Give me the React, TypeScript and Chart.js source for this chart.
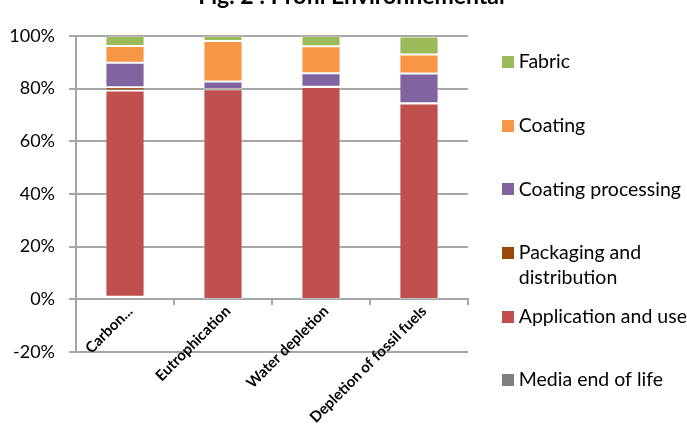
import React, { useEffect, useRef } from 'react';
import { Chart, registerables } from 'chart.js';

Chart.register(...registerables);

// ---- data ----
const categories = ['Carbon...', 'Eutrophication', 'Water depletion', 'Depletion of fossil fuels'];
const chartTitle = 'Fig. 2 : Profil Environnemental';

const mediaEndOfLife = [1.0, 0.1, 0.1, 0.1];
const applicationAndUse = [78.3, 79.7, 80.5, 74.3];
const packagingAndDistribution = [1.2, 0.1, 0.1, 0.1];
const coatingProcessing = [9.3, 2.8, 5.2, 11.3];
const coating = [6.4, 15.4, 10.2, 7.2];
const fabric = [3.8, 1.9, 3.9, 6.8];

const seriesLabels = [
  ['Media end of life', ''],
  ['Application and use', ''],
  ['Packaging and', 'distribution'],
  ['Coating processing', ''],
  ['Coating', ''],
  ['Fabric', ''],
];
const seriesColors = ['#7F7F7F', '#C0504D', '#984807', '#8064A2', '#F79646', '#9BBB59'];

const yMin = -20;
const yMax = 100;
const yStep = 20;

const W = 687;
const H = 454;
const FONT = 'Lato';
const GRID = '#a6a6a6';
const LEG_FONT = 19.5;

export default function App() {
  const ref = useRef<HTMLCanvasElement | null>(null);

  useEffect(() => {
    const canvas = ref.current;
    if (!canvas) return;

    const mctx = document.createElement('canvas').getContext('2d')!;
    mctx.font = `${LEG_FONT}px ${FONT}`;
    const textW = Math.max(...seriesLabels.flat().map((t) => mctx.measureText(t).width));
    const LEG_PAD = 13.2;
    const legendLeft = 484.8;
    const legendNatural = LEG_PAD + 3 + LEG_FONT / 2 + textW + 10;
    const padRight = Math.max(0, W - legendLeft - legendNatural);

    const swatches = seriesColors.map((c) => {
      const cv = document.createElement('canvas');
      cv.width = 12;
      cv.height = 12;
      const x = cv.getContext('2d')!;
      x.fillStyle = c;
      x.fillRect(0, 0, 12, 12);
      return cv;
    });

    const values = [mediaEndOfLife, applicationAndUse, packagingAndDistribution, coatingProcessing, coating, fabric];

    const chart = new Chart(canvas, {
      type: 'bar',
      data: {
        labels: categories,
        datasets: values.map((v, i) => ({
          label: seriesLabels[i].filter(Boolean).join(' '),
          data: v,
          backgroundColor: seriesColors[i],
          borderColor: 'rgba(255,255,255,0.22)',
          borderWidth: 1,
          borderSkipped: false,
          barPercentage: 0.4,
          categoryPercentage: 1.0,
          xAxisID: 'x',
          yAxisID: 'y',
        })),
      },
      options: {
        responsive: false,
        animation: false,
        layout: { padding: { left: 0, right: padRight, top: 0, bottom: 0 } },
        plugins: {
          tooltip: { enabled: false },
          title: {
            display: true,
            text: chartTitle,
            color: '#000',
            font: { family: FONT, size: 23, weight: 'bold' },
            padding: { top: 3.2, bottom: 25.2 },
          },
          legend: {
            display: true,
            position: 'right',
            align: 'end',
            reverse: true,
            maxWidth: W - legendLeft,
            labels: {
              usePointStyle: true,
              pointStyleWidth: 3,
              padding: LEG_PAD,
              color: '#000',
              font: { family: FONT, size: LEG_FONT, lineHeight: 25.2 / LEG_FONT },
              generateLabels: (ch: any) =>
                ch.data.datasets.map((ds: any, i: number) => ({
                  text: seriesLabels[i],
                  fillStyle: seriesColors[i],
                  strokeStyle: seriesColors[i],
                  lineWidth: 0,
                  pointStyle: swatches[i],
                  hidden: false,
                  datasetIndex: i,
                  fontColor: '#000',
                })),
            },
          },
        },
        scales: {
          x: {
            type: 'category',
            position: { y: 0 } as any,
            stacked: true,
            offset: true,
            grid: {
              display: true,
              drawOnChartArea: false,
              drawTicks: true,
              tickLength: 5,
              color: GRID,
              lineWidth: 2,
              offset: true,
            },
            border: { display: true, color: GRID, width: 2 },
            ticks: {
              color: '#000',
              font: { family: FONT, size: 15, weight: 'bold' },
              minRotation: 45,
              maxRotation: 45,
              autoSkip: false,
              padding: -2,
              labelOffset: 5,
            },
          },
          xb: {
            type: 'category',
            position: 'bottom',
            display: true,
            grid: { display: false },
            border: { display: false },
            ticks: { display: false },
            afterFit: (s: any) => {
              s.height = 82;
            },
          },
          y: {
            type: 'linear',
            position: 'left',
            stacked: true,
            min: yMin,
            max: yMax,
            ticks: {
              stepSize: yStep,
              color: '#000',
              font: { family: FONT, size: 18 },
              padding: 14,
              callback: (v: any) => `${v}%`,
            },
            grid: { color: GRID, lineWidth: 2, tickLength: 7 },
            border: { display: true, color: GRID, width: 2 },
            afterFit: (s: any) => {
              s.width = 68;
            },
          },
          yr: {
            type: 'linear',
            position: 'right',
            display: true,
            grid: { display: false },
            border: { display: false },
            ticks: { display: false },
            afterFit: (s: any) => {
              s.width = 24.8;
            },
          },
        },
      },
    });

    return () => chart.destroy();
  }, []);

  return (
    <div style={{ position: 'fixed', left: 8, top: -20, width: W, height: H }}>
      <canvas ref={ref} width={W} height={H} style={{ width: W, height: H, display: 'block' }} />
    </div>
  );
}
